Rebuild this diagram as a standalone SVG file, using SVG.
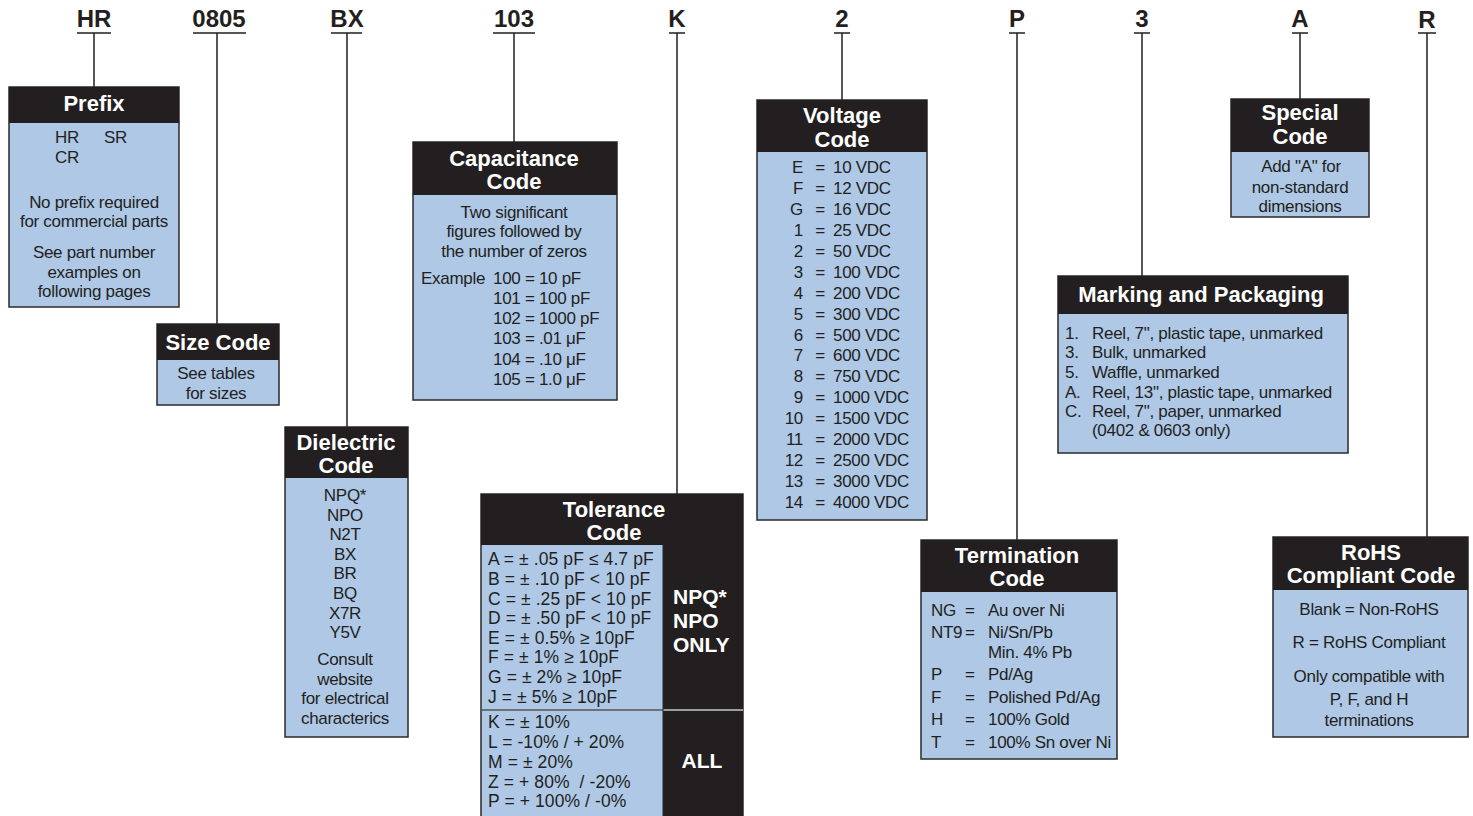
<svg xmlns="http://www.w3.org/2000/svg" width="1473" height="816" viewBox="0 0 1473 816">
<style>
.bg{fill:#ffffff}
.box{fill:#aec8e6;stroke:#2a2a2a;stroke-width:1.5}
.hd{fill:#231f20}
.dk{fill:#231f20}
.ht{font-family:"Liberation Sans",Arial,sans-serif;font-weight:bold;font-size:22px;fill:#ffffff;text-anchor:middle}
.lab{font-family:"Liberation Sans",Arial,sans-serif;font-weight:bold;font-size:24px;fill:#231f20;text-anchor:middle}
.t{font-family:"Liberation Sans",Arial,sans-serif;font-size:17px;letter-spacing:-0.3px;fill:#231f20}
.tt{font-size:17.5px;letter-spacing:0.1px}
.c{text-anchor:middle}
.e{text-anchor:end}
.wb{font-family:"Liberation Sans",Arial,sans-serif;font-weight:bold;font-size:21px;fill:#ffffff}
.ln{stroke:#231f20;stroke-width:1.5;fill:none}
</style>
<rect class="bg" x="0" y="0" width="1473" height="816"/>

<g id="connectors">
  <path class="ln" d="M77,33H111 M94,33V87"/>
  <path class="ln" d="M193,33H246 M217,33V324"/>
  <path class="ln" d="M331,33H362 M347,33V427"/>
  <path class="ln" d="M493,33H535 M514,33V142"/>
  <path class="ln" d="M669,33H685 M677,33V494"/>
  <path class="ln" d="M834,33H850 M842,33V100"/>
  <path class="ln" d="M1009,33H1025 M1017,33V540"/>
  <path class="ln" d="M1134,33H1150 M1142,33V276"/>
  <path class="ln" d="M1292,33H1308 M1300,33V99"/>
  <path class="ln" d="M1418,33H1436 M1427,33V537"/>
</g>

<g id="labels">
  <text class="lab" x="94" y="27">HR</text>
  <text class="lab" x="219" y="27">0805</text>
  <text class="lab" x="347" y="27">BX</text>
  <text class="lab" x="514" y="27">103</text>
  <text class="lab" x="677" y="27">K</text>
  <text class="lab" x="842" y="27">2</text>
  <text class="lab" x="1017" y="27">P</text>
  <text class="lab" x="1142" y="27">3</text>
  <text class="lab" x="1300" y="27">A</text>
  <text class="lab" x="1427" y="28">R</text>
</g>

<g id="prefix">
  <rect class="box" x="9" y="87" width="170" height="220"/>
  <rect class="hd" x="9" y="87" width="170" height="36"/>
  <text class="ht" x="94" y="111">Prefix</text>
  <text class="t" x="55" y="143">HR</text>
  <text class="t" x="104" y="143">SR</text>
  <text class="t" x="55" y="163">CR</text>
  <text class="t c" x="94" y="208">No prefix required</text>
  <text class="t c" x="94" y="227">for commercial parts</text>
  <text class="t c" x="94" y="258">See part number</text>
  <text class="t c" x="94" y="278">examples on</text>
  <text class="t c" x="94" y="297">following pages</text>
</g>

<g id="size-code">
  <rect class="box" x="157" y="324" width="122" height="81"/>
  <rect class="hd" x="157" y="324" width="122" height="36"/>
  <text class="ht" x="218" y="350">Size Code</text>
  <text class="t c" x="216" y="379">See tables</text>
  <text class="t c" x="216" y="399">for sizes</text>
</g>

<g id="dielectric-code">
  <rect class="box" x="285" y="427" width="123" height="310"/>
  <rect class="hd" x="285" y="427" width="123" height="51"/>
  <text class="ht" x="346" y="450">Dielectric</text>
  <text class="ht" x="346" y="473">Code</text>
  <text class="t c" x="345" y="501">NPQ*</text>
  <text class="t c" x="345" y="521">NPO</text>
  <text class="t c" x="345" y="540">N2T</text>
  <text class="t c" x="345" y="560">BX</text>
  <text class="t c" x="345" y="579">BR</text>
  <text class="t c" x="345" y="599">BQ</text>
  <text class="t c" x="345" y="619">X7R</text>
  <text class="t c" x="345" y="638">Y5V</text>
  <text class="t c" x="345" y="665">Consult</text>
  <text class="t c" x="345" y="685">website</text>
  <text class="t c" x="345" y="704">for electrical</text>
  <text class="t c" x="345" y="724">characterics</text>
</g>

<g id="capacitance-code">
  <rect class="box" x="413" y="142" width="204" height="258"/>
  <rect class="hd" x="413" y="142" width="204" height="53"/>
  <text class="ht" x="514" y="166">Capacitance</text>
  <text class="ht" x="514" y="189">Code</text>
  <text class="t c" x="514" y="218">Two significant</text>
  <text class="t c" x="514" y="237">figures followed by</text>
  <text class="t c" x="514" y="257">the number of zeros</text>
  <text class="t" x="421" y="284">Example</text>
  <text class="t" x="493" y="284">100 = 10 pF</text>
  <text class="t" x="493" y="304">101 = 100 pF</text>
  <text class="t" x="493" y="324">102 = 1000 pF</text>
  <text class="t" x="493" y="344">103 = .01 μF</text>
  <text class="t" x="493" y="365">104 = .10 μF</text>
  <text class="t" x="493" y="385">105 = 1.0 μF</text>
</g>

<g id="tolerance-code">
  <rect class="box" x="481" y="494" width="262" height="330"/>
  <rect class="hd" x="481" y="494" width="262" height="51"/>
  <rect class="dk" x="663" y="545" width="80" height="279"/>
  <line x1="481" y1="710" x2="663" y2="710" stroke="#555555" stroke-width="1.5"/>
  <line x1="663" y1="710" x2="743" y2="710" stroke="#c8c8c8" stroke-width="1.5"/>
  <line x1="663" y1="545" x2="663" y2="824" stroke="#2a2a2a" stroke-width="1"/>
  <text class="ht" x="614" y="517">Tolerance</text>
  <text class="ht" x="614" y="540">Code</text>
  <g class="t tt">
    <text x="488" y="565">A = ± .05 pF ≤ 4.7 pF</text>
    <text x="488" y="585">B = ± .10 pF &lt; 10 pF</text>
    <text x="488" y="605">C = ± .25 pF &lt; 10 pF</text>
    <text x="488" y="624">D = ± .50 pF &lt; 10 pF</text>
    <text x="488" y="644">E = ± 0.5% ≥ 10pF</text>
    <text x="488" y="663">F = ± 1% ≥ 10pF</text>
    <text x="488" y="683">G = ± 2% ≥ 10pF</text>
    <text x="488" y="703">J = ± 5% ≥ 10pF</text>
    <text x="488" y="728">K = ± 10%</text>
    <text x="488" y="748">L = -10% / + 20%</text>
    <text x="488" y="768">M = ± 20%</text>
    <text x="488" y="788" xml:space="preserve">Z = + 80%  / -20%</text>
    <text x="488" y="807">P = + 100% / -0%</text>
  </g>
  <text class="wb" x="673" y="604">NPQ*</text>
  <text class="wb" x="673" y="628">NPO</text>
  <text class="wb" x="673" y="652">ONLY</text>
  <text class="wb" x="702" y="768" text-anchor="middle">ALL</text>
</g>

<g id="voltage-code">
  <rect class="box" x="757" y="100" width="170" height="420"/>
  <rect class="hd" x="757" y="100" width="170" height="52"/>
  <text class="ht" x="842" y="123">Voltage</text>
  <text class="ht" x="842" y="147">Code</text>
  <g class="t">
    <text class="e" x="803" y="173">E</text><text class="c" x="820" y="173">=</text><text x="833" y="173">10 VDC</text>
    <text class="e" x="803" y="194">F</text><text class="c" x="820" y="194">=</text><text x="833" y="194">12 VDC</text>
    <text class="e" x="803" y="215">G</text><text class="c" x="820" y="215">=</text><text x="833" y="215">16 VDC</text>
    <text class="e" x="803" y="236">1</text><text class="c" x="820" y="236">=</text><text x="833" y="236">25 VDC</text>
    <text class="e" x="803" y="257">2</text><text class="c" x="820" y="257">=</text><text x="833" y="257">50 VDC</text>
    <text class="e" x="803" y="278">3</text><text class="c" x="820" y="278">=</text><text x="833" y="278">100 VDC</text>
    <text class="e" x="803" y="299">4</text><text class="c" x="820" y="299">=</text><text x="833" y="299">200 VDC</text>
    <text class="e" x="803" y="320">5</text><text class="c" x="820" y="320">=</text><text x="833" y="320">300 VDC</text>
    <text class="e" x="803" y="341">6</text><text class="c" x="820" y="341">=</text><text x="833" y="341">500 VDC</text>
    <text class="e" x="803" y="361">7</text><text class="c" x="820" y="361">=</text><text x="833" y="361">600 VDC</text>
    <text class="e" x="803" y="382">8</text><text class="c" x="820" y="382">=</text><text x="833" y="382">750 VDC</text>
    <text class="e" x="803" y="403">9</text><text class="c" x="820" y="403">=</text><text x="833" y="403">1000 VDC</text>
    <text class="e" x="803" y="424">10</text><text class="c" x="820" y="424">=</text><text x="833" y="424">1500 VDC</text>
    <text class="e" x="803" y="445">11</text><text class="c" x="820" y="445">=</text><text x="833" y="445">2000 VDC</text>
    <text class="e" x="803" y="466">12</text><text class="c" x="820" y="466">=</text><text x="833" y="466">2500 VDC</text>
    <text class="e" x="803" y="487">13</text><text class="c" x="820" y="487">=</text><text x="833" y="487">3000 VDC</text>
    <text class="e" x="803" y="508">14</text><text class="c" x="820" y="508">=</text><text x="833" y="508">4000 VDC</text>
  </g>
</g>

<g id="termination-code">
  <rect class="box" x="921" y="540" width="196" height="219"/>
  <rect class="hd" x="921" y="540" width="196" height="52"/>
  <text class="ht" x="1017" y="563">Termination</text>
  <text class="ht" x="1017" y="586">Code</text>
  <g class="t">
    <text x="931" y="616">NG</text><text x="965" y="616">=</text><text x="988" y="616">Au over Ni</text>
    <text x="931" y="638">NT9</text><text x="965" y="638">=</text><text x="988" y="638">Ni/Sn/Pb</text>
    <text x="988" y="658">Min. 4% Pb</text>
    <text x="931" y="680">P</text><text x="965" y="680">=</text><text x="988" y="680">Pd/Ag</text>
    <text x="931" y="703">F</text><text x="965" y="703">=</text><text x="988" y="703">Polished Pd/Ag</text>
    <text x="931" y="725">H</text><text x="965" y="725">=</text><text x="988" y="725">100% Gold</text>
    <text x="931" y="748">T</text><text x="965" y="748">=</text><text x="988" y="748">100% Sn over Ni</text>
  </g>
</g>

<g id="marking-packaging">
  <rect class="box" x="1058" y="276" width="290" height="177"/>
  <rect class="hd" x="1058" y="276" width="290" height="38"/>
  <text class="ht" x="1201" y="302">Marking and Packaging</text>
  <g class="t">
    <text x="1065" y="339">1.</text><text x="1092" y="339">Reel, 7", plastic tape, unmarked</text>
    <text x="1065" y="358">3.</text><text x="1092" y="358">Bulk, unmarked</text>
    <text x="1065" y="378">5.</text><text x="1092" y="378">Waffle, unmarked</text>
    <text x="1065" y="398">A.</text><text x="1092" y="398">Reel, 13", plastic tape, unmarked</text>
    <text x="1065" y="417">C.</text><text x="1092" y="417">Reel, 7", paper, unmarked</text>
    <text x="1092" y="436">(0402 &amp; 0603 only)</text>
  </g>
</g>

<g id="special-code">
  <rect class="box" x="1231" y="99" width="138" height="118"/>
  <rect class="hd" x="1231" y="99" width="138" height="53"/>
  <text class="ht" x="1300" y="120">Special</text>
  <text class="ht" x="1300" y="144">Code</text>
  <text class="t c" x="1301" y="172">Add "A" for</text>
  <text class="t c" x="1300" y="193">non-standard</text>
  <text class="t c" x="1300" y="212">dimensions</text>
</g>

<g id="rohs-code">
  <rect class="box" x="1273" y="537" width="195" height="200"/>
  <rect class="hd" x="1273" y="537" width="195" height="53"/>
  <text class="ht" x="1371" y="560">RoHS</text>
  <text class="ht" x="1371" y="583">Compliant Code</text>
  <text class="t c" x="1369" y="615">Blank = Non-RoHS</text>
  <text class="t c" x="1369" y="648">R = RoHS Compliant</text>
  <text class="t c" x="1369" y="682">Only compatible with</text>
  <text class="t c" x="1369" y="705">P, F, and H</text>
  <text class="t c" x="1369" y="726">terminations</text>
</g>
</svg>
